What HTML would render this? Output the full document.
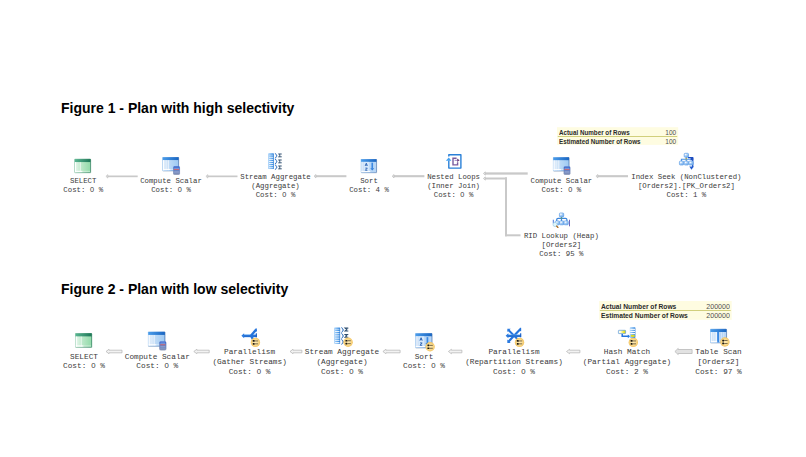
<!DOCTYPE html>
<html><head><meta charset="utf-8"><title>Execution plans</title>
<style>
html,body{margin:0;padding:0;background:#fff;}
body{width:806px;height:457px;position:relative;overflow:hidden;font-family:"Liberation Sans",sans-serif;}
svg{position:absolute;left:0;top:0;}
h2{position:absolute;margin:0;font:bold 14px/16px "Liberation Sans",sans-serif;color:#000;white-space:nowrap;left:61px;}
.n{position:absolute;width:220px;text-align:center;white-space:pre;font-family:"Liberation Mono",monospace;color:#3a3a3a;}
.f1{font-size:7.35px;line-height:9px;}
.f2{font-size:7.76px;line-height:9.65px;}
.f2.two{line-height:9.2px;}
.tt,.tv{position:absolute;white-space:nowrap;font-family:"Liberation Sans",sans-serif;line-height:8px;}
.tt{font-weight:bold;color:#2a2a2a;}
.tv{text-align:right;color:#505050;}
.ta{font-size:6.9px;}
.tt.ta{transform:scaleX(.91);transform-origin:0 0;}
.tt.tb{transform:scaleX(.915);transform-origin:0 0;}
.tv.tb{transform:scaleX(.97);transform-origin:100% 0;}
.tv.ta{transform:scaleX(.95);transform-origin:100% 0;}
.z{font-family:"Liberation Sans",sans-serif;display:inline-block;width:.6em;text-align:center;line-height:0;}
.tb{font-size:7.3px;}
</style></head>
<body>
<svg width="806" height="457" viewBox="0 0 806 457">

<defs>
  <linearGradient id="gH" x1="0" x2="1" y1="0" y2="0"><stop offset="0" stop-color="#58b591"/><stop offset="1" stop-color="#1e7758"/></linearGradient>
  <linearGradient id="gB" x1="0" x2="1" y1="0" y2="0"><stop offset="0" stop-color="#e9f8ee"/><stop offset=".45" stop-color="#b9e7c7"/><stop offset="1" stop-color="#93dbaa"/></linearGradient>
  <linearGradient id="bH" x1="0" x2="1" y1="0" y2="0"><stop offset="0" stop-color="#4a9cea"/><stop offset="1" stop-color="#1a66c2"/></linearGradient>
  <linearGradient id="bB" x1="0" x2="1" y1="0" y2="0"><stop offset="0" stop-color="#e6f0fb"/><stop offset=".45" stop-color="#bcd9f6"/><stop offset="1" stop-color="#9fcaf3"/></linearGradient>
  <linearGradient id="bar" x1="0" x2="1" y1="0" y2="0"><stop offset="0" stop-color="#b4d8fa"/><stop offset=".5" stop-color="#6aaef0"/><stop offset="1" stop-color="#2f7fd6"/></linearGradient>
  <linearGradient id="calc" x1="0" x2="0" y1="0" y2="1"><stop offset="0" stop-color="#2f5ed0"/><stop offset=".3" stop-color="#5b7cc8"/><stop offset="1" stop-color="#8492b6"/></linearGradient>
  <linearGradient id="yel" x1="0" x2="1" y1="0" y2="0"><stop offset="0" stop-color="#ffffff"/><stop offset=".3" stop-color="#fdfcd8"/><stop offset=".75" stop-color="#ece62e"/><stop offset="1" stop-color="#d6ce12"/></linearGradient>
  <radialGradient id="badge" cx=".5" cy=".5" r=".5"><stop offset="0" stop-color="#fdebb8"/><stop offset=".65" stop-color="#f9d98c"/><stop offset="1" stop-color="#f3c35e"/></radialGradient>
  <linearGradient id="box" x1="0" x2="1" y1="0" y2="1"><stop offset="0" stop-color="#f4f9ff"/><stop offset="1" stop-color="#5fa2ea"/></linearGradient>
  <linearGradient id="arr" x1="0" x2="0" y1="0" y2="1"><stop offset="0" stop-color="#58a6f4"/><stop offset=".55" stop-color="#1a62c8"/><stop offset="1" stop-color="#2f7ee0"/></linearGradient>

  <linearGradient id="gBd" x1="0" x2="1" y1="0" y2="0"><stop offset="0" stop-color="#9bd0b6"/><stop offset="1" stop-color="#3f8c6b"/></linearGradient>
  <linearGradient id="bBd" x1="0" x2="1" y1="0" y2="0"><stop offset="0" stop-color="#a6cdf3"/><stop offset=".8" stop-color="#5f96da"/><stop offset="1" stop-color="#5a84bc"/></linearGradient>
  <!-- generic table icon, 16.5 x 14 -->
  <g id="tblG">
    <rect x="0.3" y="0.3" width="16.6" height="14.2" rx="0.8" fill="#7fae98" opacity=".55"/>
    <rect x="0" y="0" width="16.5" height="14" rx="0.7" fill="url(#gBd)"/>
    <rect x="0.5" y="0.4" width="15.6" height="2.9" fill="url(#gH)"/>
    <rect x="0.6" y="3.3" width="15.2" height="10.1" fill="url(#gB)"/>
    <rect x="0.7" y="3.4" width="1.0" height="9.9" fill="#fff" opacity=".9"/>
    <rect x="5.6" y="3.4" width="0.8" height="9.9" fill="#fff" opacity=".75"/>
    <rect x="0.7" y="12.0" width="7.5" height="1.3" fill="#fff" opacity=".9"/>
    <rect x="8.2" y="12.0" width="7.6" height="1.3" fill="#fff" opacity=".35"/>
  </g>
  <g id="tblB">
    <rect x="0.3" y="0.4" width="16.6" height="14.3" rx="0.8" fill="#8ea4be" opacity=".6"/>
    <rect x="0" y="0" width="16.5" height="14" rx="0.7" fill="url(#bBd)"/>
    <rect x="0.4" y="0.4" width="15.8" height="2.8" fill="url(#bH)"/>
    <rect x="0.6" y="3.2" width="15.2" height="10.2" fill="url(#bB)"/>
    <rect x="0.7" y="3.3" width="1.0" height="10" fill="#fff" opacity=".9"/>
    <rect x="3.6" y="3.3" width="0.7" height="10" fill="#fff" opacity=".5"/>
    <rect x="5.6" y="3.3" width="0.8" height="10" fill="#fff" opacity=".8"/>
    <rect x="0.7" y="12.0" width="7.5" height="1.3" fill="#fff" opacity=".9"/>
    <rect x="8.2" y="12.0" width="7.6" height="1.3" fill="#fff" opacity=".4"/>
  </g>
  <!-- calculator 6.5 x 8.3 -->
  <g id="calcI">
    <rect x="-0.3" y="-0.2" width="7.1" height="8.9" rx="1.5" fill="#8d9bb8" opacity=".5"/>
    <rect x="0" y="0" width="6.5" height="8.3" rx="1.3" fill="url(#calc)"/>
    <rect x="0.9" y="0.3" width="4.7" height="0.6" rx=".3" fill="#7fa2ea" opacity=".8"/>
    <rect x="0.9" y="1.9" width="4.7" height="0.6" fill="#c9d6f2" opacity=".55"/>
    <rect x="0.8" y="2.75" width="4.9" height="0.85" fill="#df6666"/>
    <rect x="0.9" y="4.6" width="4.7" height="0.6" fill="#a9b8de" opacity=".7"/>
    <rect x="0.9" y="6.0" width="4.7" height="0.6" fill="#a9b8de" opacity=".6"/>
  </g>
  <!-- compute scalar = blue table + calculator -->
  <g id="cs"><use href="#tblB"/><use href="#calcI" x="11" y="9.45"/></g>

  <!-- sort icon 16 x 13.7 -->
  <g id="sort">
    <rect x="0.3" y="0.4" width="16.1" height="14" rx="0.8" fill="#8ea4be" opacity=".6"/>
    <rect x="0" y="0" width="16" height="13.7" rx="0.7" fill="url(#bBd)"/>
    <rect x="0.4" y="0.4" width="15.3" height="2.6" fill="url(#bH)"/>
    <rect x="0.6" y="3.0" width="14.8" height="10.1" fill="#b7d6f6"/>
    <rect x="0.6" y="3.0" width="2.2" height="10.1" fill="#dbe8f8"/>
    <rect x="3.0" y="3.0" width="5.6" height="10.1" fill="#d6e8fb"/>
    <rect x="0.6" y="12.0" width="9" height="1.1" fill="#fff" opacity=".9"/>
    <path d="M4.5 7.0 L5.6 4.3 L6.7 7.0 M4.9 6.2 H6.3" stroke="#1a56ac" stroke-width="0.8" fill="none"/>
    <path d="M4.6 9.2 H6.6 L4.6 11.4 H6.7" stroke="#1a56ac" stroke-width="0.8" fill="none"/>
    <rect x="10.75" y="3.8" width="1.6" height="5.8" fill="#3a88e2"/>
    <path d="M9.6 9.3 H13.5 L11.55 11.7 Z" fill="#2f7edc"/>
  </g>

  <!-- stream aggregate -->
  <g id="sagg">
    <rect x="0" y="0" width="5.8" height="15.7" rx="0.6" fill="url(#bar)"/>
    <g fill="#fff" opacity=".92">
      <rect x="0.9" y="1.4" width="4.2" height="0.9" opacity=".6"/><rect x="0.9" y="3.5" width="4.2" height="0.9"/>
      <rect x="0.9" y="5.6" width="4.2" height="0.9"/><rect x="0.9" y="7.7" width="4.2" height="0.9"/>
      <rect x="0.9" y="9.8" width="4.2" height="0.9"/><rect x="0.9" y="11.9" width="4.2" height="0.9"/>
      <rect x="0.9" y="14.0" width="4.2" height="0.9"/>
    </g>
    <g id="saggR">
    <g stroke="#2a6cbc" stroke-width="0.9" fill="none" stroke-linecap="round">
      <path d="M7.2 0.3 q1.2 0.3 1.0 1.2 t0.9 1.0 q-1.1 0.2 -0.9 1.0 t-1.0 1.2"/>
      <path d="M7.2 6.0 q1.2 0.3 1.0 1.2 t0.9 1.0 q-1.1 0.2 -0.9 1.0 t-1.0 1.2"/>
      <path d="M7.2 11.7 q1.2 0.3 1.0 1.2 t0.9 1.0 q-1.1 0.2 -0.9 1.0 t-1.0 1.2"/>
    </g>
    <g stroke="#2f4f70" stroke-width="1.0" fill="none">
      <path d="M13.6 0.7 H10.5 L12.1 2.1 L10.5 3.5 H13.6"/>
      <path d="M13.6 6.7 H10.5 L12.1 8.1 L10.5 9.5 H13.6"/>
      <path d="M13.6 12.7 H10.5 L12.1 14.1 L10.5 15.5 H13.6"/>
    </g>
    </g>
  </g>

  <!-- nested loops: origin at outer-square top-left (448,153.9) -->
  <g id="nl">
    <path d="M0.8 2.7 V0.8 H12.9 V14.2 H0.8 V6.6" stroke="#2a80d8" stroke-width="1.4" fill="none" stroke-linejoin="round"/>
    <path d="M-2.2 6.9 L0.8 3.7 L3.4 6.9 Z" fill="#46a2f2"/>
    <path d="M8.6 4.3 H5.0 V11.0 H9.6 V8.4" stroke="#7a5c9e" stroke-width="1.4" fill="none"/>
    <path d="M6.6 6.4 H9.6" stroke="#9a86c2" stroke-width="1.0"/>
    <path d="M9.2 4.6 L11.6 6.4 L9.2 8.0 Z" fill="#6a3a78"/>
  </g>

  <!-- small tree box -->
  <g id="tb"><rect x="0" y="0" width="4.3" height="3.9" rx="0.9" fill="url(#box)" stroke="#5c9ee6" stroke-width="0.7"/><rect x="0.8" y="0.7" width="1.5" height="1.2" fill="#fff" opacity=".85"/></g>

  <!-- index seek: origin (679,153) -->
  <g id="iseek">
    <path d="M2.4 8.4 V6.2 H13.2 M7.3 3.4 V8.4" stroke="#4a92e4" stroke-width="1.1" fill="none"/>
    <path d="M8.9 4.6 H13.7 V14.2" stroke="#1c4cc0" stroke-width="1.3" fill="none"/>
    <rect x="11.6" y="5.0" width="2.7" height="2.3" fill="#1c4cc0"/>
    <use href="#tb" x="5.2" y="0.3"/>
    <use href="#tb" x="0.4" y="8.1"/><use href="#tb" x="5.2" y="8.1"/><use href="#tb" x="9.9" y="8.1"/>
    <path d="M10.3 13.6 H14.7 L12.5 16.7 Z" fill="#1f5ad0"/>
    <rect x="6.6" y="5.0" width="1.3" height="1.3" fill="#c8b030"/>
  </g>

  <!-- rid lookup: origin (552.5,212.5) -->
  <g id="rid">
    <path d="M4.2 9.0 V7.2 Q4.2 5.8 5.6 5.8 H13.0 Q14.4 5.8 14.4 7.2 V9.0 M9.0 3.8 V9.0" stroke="#3c86dc" stroke-width="1.2" fill="none"/>
    <use href="#tb" x="6.9" y="0.5"/>
    <use href="#tb" x="2.7" y="8.4"/><use href="#tb" x="7.1" y="8.4"/><use href="#tb" x="11.5" y="8.4"/>
    <rect x="0.3" y="7.2" width="1.0" height="3.8" fill="#4a7adc"/>
    <rect x="16.5" y="7.2" width="0.85" height="6.6" fill="#5552b0"/>
    <circle cx="2.6" cy="12.0" r="2.1" fill="#dff6fb" stroke="#9ccbe6" stroke-width="0.7"/>
    <path d="M4.1 13.6 L5.5 14.9" stroke="#a8681c" stroke-width="1.3" stroke-linecap="round"/>
    <rect x="8.4" y="5.0" width="1.2" height="1.2" fill="#6aa84a"/>
  </g>

  <!-- parallelism badge, centre at 0,0 r 4.6 -->
  <g id="pb">
    <circle r="4.7" fill="url(#badge)"/>
    <rect x="-2.7" y="-2.3" width="2.0" height="1.7" rx=".4" fill="#1c1a14"/>
    <rect x="-0.7" y="-1.9" width="3.4" height="0.9" fill="#6e6042"/>
    <rect x="-2.7" y="0.6" width="2.0" height="1.7" rx=".4" fill="#1c1a14"/>
    <rect x="-0.7" y="1.0" width="3.4" height="0.9" fill="#6e6042"/>
  </g>

  <!-- gather streams: origin at arrow tip row; local coords relative (241.4,335.8)->(0,0) at fig2 scale applied outside -->
  <g id="gather">
    <rect x="2.2" y="-1.3" width="12.4" height="2.6" fill="url(#arr)"/>
    <path d="M0 0 L2.6 -2.4 V2.4 Z" fill="#2a7ae0"/>
    <path d="M9.2 -0.2 L14.0 -6.0" stroke="#2474dc" stroke-width="2.2"/>
    <path d="M9.4 0.4 L11 3.4" stroke="#2474dc" stroke-width="2.2"/>
    <rect x="13.4" y="-7.0" width="1.2" height="3.0" fill="#2474dc"/>
    <rect x="13.6" y="-2.4" width="1.1" height="3.8" fill="#1a60c8"/>
  </g>

  <!-- repartition streams: origin cross centre -->
  <g id="repart">
    <g stroke="#2474dc" stroke-width="2.0" fill="none">
      <path d="M-5.6 -5.6 L5.8 6.0"/>
      <path d="M-5.6 5.6 L5.8 -6.4"/>
    </g>
    <rect x="-6.2" y="-1.2" width="12.6" height="2.4" fill="url(#arr)"/>
    <path d="M-8.2 0 L-5.6 -2.3 V2.3 Z" fill="#2a7ae0"/>
    <path d="M-6.6 -6.8 H-3.4 L-6.6 -3.6 Z" fill="#2a7ae0"/>
    <path d="M-6.6 6.8 H-3.4 L-6.6 3.6 Z" fill="#2a7ae0"/>
    <rect x="5.3" y="-7.6" width="1.2" height="3.2" fill="#2474dc"/>
    <rect x="5.5" y="-2.4" width="1.1" height="3.8" fill="#1a60c8"/>
  </g>

  <!-- hash match: origin (618,327) -->
  <g id="hash">
    <rect x="0.4" y="3.3" width="7.2" height="3.3" rx=".5" fill="url(#yel)" stroke="#5b9ad6" stroke-width="0.7"/>
    <path d="M4.2 6.9 V9.35 H10.6" stroke="#2474dc" stroke-width="1.5" fill="none"/>
    <path d="M9.8 7.5 L12.2 9.35 L9.8 11.2 Z" fill="#2a7ae0"/>
    <rect x="11.8" y="0.3" width="5.6" height="10.6" rx=".6" fill="url(#bar)"/>
    <g fill="#fff" opacity=".95">
      <rect x="12.2" y="1.75" width="4.8" height="1.15"/><rect x="12.2" y="3.85" width="4.8" height="1.15"/><rect x="12.2" y="5.95" width="4.8" height="1.15"/>
    </g>
    <rect x="12.9" y="7.85" width="3.8" height="2.0" fill="#e2dc1c"/>
  </g>

  <!-- table scan 16.6x14.7 -->
  <g id="tscan">
    <rect x="0.3" y="0.4" width="16.6" height="14.3" rx="0.8" fill="#8ea4be" opacity=".6"/>
    <rect x="0" y="0" width="16.5" height="14" rx="0.7" fill="url(#bBd)"/>
    <rect x="0.4" y="0.4" width="15.8" height="2.8" fill="url(#bH)"/>
    <rect x="0.6" y="3.2" width="15.2" height="10.2" fill="#c9e0f8"/>
    <rect x="0.8" y="3.3" width="6.2" height="10" fill="#eef5fd"/>
    <rect x="2.4" y="3.3" width="0.8" height="10" fill="#b4d4f6"/><rect x="4.4" y="3.3" width="0.8" height="10" fill="#b4d4f6"/>
    <rect x="7.0" y="3.0" width="1.9" height="10.4" fill="#3a8ae4"/>
    <rect x="9.2" y="3.3" width="6.4" height="10" fill="#b6d5f6"/>
    <rect x="11.0" y="3.3" width="0.8" height="10" fill="#d8e8fa"/><rect x="13.2" y="3.3" width="0.8" height="10" fill="#d8e8fa"/>
    <rect x="0.8" y="12.2" width="6.2" height="1.1" fill="#fff"/>
  </g>

  <!-- thin arrow head for fig1 (tip at 0,0 pointing left) -->
  <path id="ah1" d="M0 0 L1.9 -1.7 V1.7 Z" fill="#e6e6e6" stroke="#b9b9b9" stroke-width="0.6" stroke-linejoin="round"/>
</defs>

<rect x="107.30" y="175.50" width="30.40" height="1.70" fill="#c9c9c9"/>
<use href="#ah1" x="105.90" y="176.35"/>
<rect x="207.30" y="175.50" width="30.20" height="1.70" fill="#c9c9c9"/>
<use href="#ah1" x="205.90" y="176.35"/>
<rect x="315.40" y="175.20" width="31.00" height="2.00" fill="#c9c9c9"/>
<use href="#ah1" x="314.00" y="176.20"/>
<rect x="393.50" y="175.15" width="30.90" height="2.10" fill="#c9c9c9"/>
<use href="#ah1" x="392.10" y="176.20"/>
<rect x="597.30" y="175.15" width="30.70" height="2.10" fill="#c9c9c9"/>
<use href="#ah1" x="595.90" y="176.20"/>
<rect x="484.80" y="172.35" width="42.90" height="2.30" fill="#c9c9c9"/>
<use href="#ah1" x="483.40" y="173.50"/>
<rect x="484.80" y="177.50" width="22.20" height="2.00" fill="#c9c9c9"/>
<use href="#ah1" x="483.40" y="178.50"/>
<rect x="505.0" y="177.4" width="2.0" height="58.9" fill="#c9c9c9"/>
<rect x="505.0" y="234.3" width="15.5" height="2.0" fill="#c9c9c9"/>
<path d="M106.00 351.50 L109.00 349.30 V350.20 H122.00 V352.80 H109.00 V353.70 Z" fill="#f3f3f3" stroke="#b6b6b6" stroke-width="0.75" stroke-linejoin="round"/>
<path d="M193.80 351.50 L196.80 349.30 V350.20 H209.20 V352.80 H196.80 V353.70 Z" fill="#f3f3f3" stroke="#b6b6b6" stroke-width="0.75" stroke-linejoin="round"/>
<path d="M290.00 351.50 L293.00 349.30 V350.20 H301.90 V352.80 H293.00 V353.70 Z" fill="#f3f3f3" stroke="#b6b6b6" stroke-width="0.75" stroke-linejoin="round"/>
<path d="M382.90 351.50 L385.90 349.30 V350.20 H400.10 V352.80 H385.90 V353.70 Z" fill="#f3f3f3" stroke="#b6b6b6" stroke-width="0.75" stroke-linejoin="round"/>
<path d="M448.40 351.50 L451.40 349.30 V350.20 H461.90 V352.80 H451.40 V353.70 Z" fill="#f3f3f3" stroke="#b6b6b6" stroke-width="0.75" stroke-linejoin="round"/>
<path d="M566.50 351.50 L569.50 349.30 V350.20 H579.90 V352.80 H569.50 V353.70 Z" fill="#f3f3f3" stroke="#b6b6b6" stroke-width="0.75" stroke-linejoin="round"/>
<path d="M674.90 351.50 L678.20 348.40 V349.50 H692.10 V353.50 H678.20 V354.60 Z" fill="#e2e2e2" stroke="#b6b6b6" stroke-width="0.75" stroke-linejoin="round"/>
<rect x="557.0" y="127.2" width="121.20" height="17.70" fill="#fefce1"/>
<rect x="557.8" y="136.00" width="119.40" height="1" fill="#d1cf7c"/>
<rect x="599.1" y="301.0" width="132.60" height="18.80" fill="#fefce1"/>
<rect x="599.9" y="310.00" width="130.80" height="1" fill="#d1cf7c"/>
<use href="#tblG" transform="translate(74.30 158.80) scale(1.000)"/>
<use href="#cs" transform="translate(162.30 156.90) scale(1.000)"/>
<use href="#sagg" transform="translate(268.10 153.30) scale(1.000)"/>
<use href="#sort" transform="translate(360.70 158.90) scale(1.000)"/>
<use href="#nl" transform="translate(448.00 153.90) scale(1.000)"/>
<use href="#cs" transform="translate(552.90 157.10) scale(0.990)"/>
<use href="#iseek" transform="translate(679.00 153.00) scale(1.000)"/>
<use href="#rid" transform="translate(552.50 212.50) scale(1.000)"/>
<use href="#tblG" transform="translate(75.10 333.10) scale(1.020)"/>
<use href="#cs" transform="translate(147.90 331.60) scale(1.045)"/>
<use href="#gather" transform="translate(241.40 335.80) scale(1.055)"/>
<use href="#pb" transform="translate(255.40 342.40) scale(1.000)"/>
<use href="#sagg" transform="translate(334.10 327.40) scale(1.045)"/>
<use href="#pb" transform="translate(348.10 342.20) scale(1.000)"/>
<use href="#sort" transform="translate(415.10 333.10) scale(1.068)"/>
<use href="#pb" transform="translate(430.10 346.80) scale(1.000)"/>
<use href="#repart" transform="translate(514.30 335.80) scale(1.055)"/>
<use href="#pb" transform="translate(519.50 342.40) scale(1.000)"/>
<use href="#hash" transform="translate(618.00 327.00) scale(1.000)"/>
<use href="#pb" transform="translate(633.30 342.40) scale(1.000)"/>
<use href="#tscan" transform="translate(710.10 328.80) scale(1.006)"/>
<use href="#pb" transform="translate(724.90 342.00) scale(1.000)"/>
</svg>
<h2 style="top:100px">Figure 1 - Plan with high selectivity</h2>
<h2 style="top:281px">Figure 2 - Plan with low selectivity</h2>
<div class="n f1 two" style="left:-26.80px;top:176.50px">SELECT<br>Cost: <span class="z">0</span> %</div>
<div class="n f1 two" style="left:61.00px;top:176.50px">Compute Scalar<br>Cost: <span class="z">0</span> %</div>
<div class="n f1" style="left:165.50px;top:172.50px">Stream Aggregate<br>(Aggregate)<br>Cost: <span class="z">0</span> %</div>
<div class="n f1 two" style="left:259.00px;top:176.50px">Sort<br>Cost: 4 %</div>
<div class="n f1" style="left:343.60px;top:172.50px">Nested Loops<br>(Inner Join)<br>Cost: <span class="z">0</span> %</div>
<div class="n f1 two" style="left:451.40px;top:176.50px">Compute Scalar<br>Cost: <span class="z">0</span> %</div>
<div class="n f1" style="left:576.40px;top:172.50px">Index Seek (NonClustered)<br>[Orders2].[PK_Orders2]<br>Cost: 1 %</div>
<div class="n f1" style="left:451.40px;top:231.50px">RID Lookup (Heap)<br>[Orders2]<br>Cost: 95 %</div>
<div class="n f2 two" style="left:-26.00px;top:352.60px">SELECT<br>Cost: <span class="z">0</span> %</div>
<div class="n f2 two" style="left:47.30px;top:352.60px">Compute Scalar<br>Cost: <span class="z">0</span> %</div>
<div class="n f2" style="left:139.60px;top:348.30px">Parallelism<br>(Gather Streams)<br>Cost: <span class="z">0</span> %</div>
<div class="n f2" style="left:232.00px;top:348.30px">Stream Aggregate<br>(Aggregate)<br>Cost: <span class="z">0</span> %</div>
<div class="n f2 two" style="left:314.00px;top:352.60px">Sort<br>Cost: <span class="z">0</span> %</div>
<div class="n f2" style="left:404.00px;top:348.30px">Parallelism<br>(Repartition Streams)<br>Cost: <span class="z">0</span> %</div>
<div class="n f2" style="left:517.00px;top:348.30px">Hash Match<br>(Partial Aggregate)<br>Cost: 2 %</div>
<div class="n f2" style="left:608.50px;top:348.30px">Table Scan<br>[Orders2]<br>Cost: 97 %</div>
<div class="tt ta" style="left:558.9px;top:128.8px">Actual Number of Rows</div>
<div class="tt ta" style="left:558.9px;top:137.7px">Estimated Number of Rows</div>
<div class="tv ta" style="left:640px;width:36.2px;top:128.8px">100</div>
<div class="tv ta" style="left:640px;width:36.2px;top:137.7px">100</div>
<div class="tt tb" style="left:601.4px;top:302.6px">Actual Number of Rows</div>
<div class="tt tb" style="left:601.4px;top:311.6px">Estimated Number of Rows</div>
<div class="tv tb" style="left:690px;width:39.9px;top:302.6px">200000</div>
<div class="tv tb" style="left:690px;width:39.9px;top:311.6px">200000</div>
</body></html>
